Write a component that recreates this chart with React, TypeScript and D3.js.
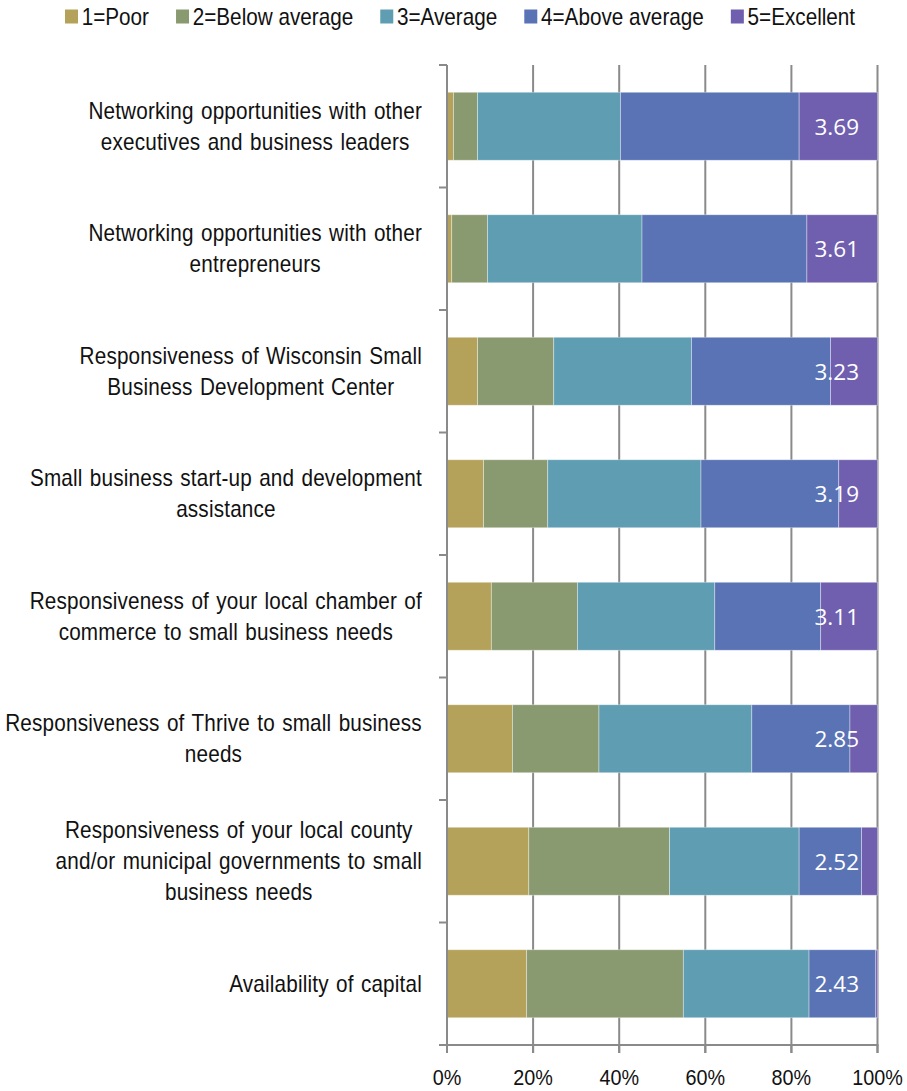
import React from "react";
import * as d3 from "d3";

const categories: string[] = [
  "Networking opportunities with other\nexecutives and business leaders",
  "Networking opportunities with other\nentrepreneurs",
  "Responsiveness of Wisconsin Small\nBusiness Development Center",
  "Small business start-up and development\nassistance",
  "Responsiveness of your local chamber of\ncommerce to small business needs",
  "Responsiveness of Thrive to small business\nneeds",
  "Responsiveness of your local county\nand/or municipal governments to small\nbusiness needs",
  "Availability of capital",
];
const seriesNames = ["1=Poor", "2=Below average", "3=Average", "4=Above average", "5=Excellent"];
const poor = [1.5, 1.1, 7.1, 8.5, 10.3, 15.2, 19.0, 18.5];
const belowAverage = [5.6, 8.3, 17.7, 14.9, 20.0, 20.1, 32.7, 36.4];
const average = [33.2, 35.9, 32.0, 35.6, 31.9, 35.5, 30.1, 29.2];
const aboveAverage = [41.5, 38.3, 32.3, 32.0, 24.6, 22.8, 14.5, 15.5];
const excellent = [18.2, 16.4, 10.9, 9.0, 13.2, 6.4, 3.7, 0.4];
const meanLabels = ["3.69", "3.61", "3.23", "3.19", "3.11", "2.85", "2.52", "2.43"];
const xTicks = [0, 20, 40, 60, 80, 100];
const colors = ["#B5A25A", "#8A9A70", "#5E9DB2", "#5973B5", "#705EAF"];

const FONT = '"Liberation Sans", Arial, sans-serif';
const SX = 0.9; // horizontal condensing to mimic the narrow face

let ctx: CanvasRenderingContext2D | null = null;
function measure(text: string, size: number, ls = 0, ws = 0) {
  if (!ctx) ctx = document.createElement("canvas").getContext("2d");
  let w = text.length * size * 0.5;
  if (ctx) {
    ctx.font = `${size}px ${FONT}`;
    w = ctx.measureText(text).width;
  }
  const spaces = (text.match(/ /g) || []).length;
  return (w + ls * text.length + ws * spaces) * SX;
}

function CText(props: {
  x: number; y: number; size: number; anchor?: string; fill?: string; ls?: number; ws?: number; children: React.ReactNode;
}) {
  const { x, y, size, anchor = "start", fill = "#111", ls = 0, ws = 0, children } = props;
  return (
    <g transform={`translate(${x},${y}) scale(${SX},1)`}>
      <text x={0} y={0} fontFamily={FONT} fontSize={size} textAnchor={anchor} fill={fill}
        letterSpacing={ls} wordSpacing={ws}>
        {children}
      </text>
    </g>
  );
}

export default function App() {
  const W = 907, H = 1091;
  const left = 447, right = 877.5, top = 65, bottom = 1045;
  const x = d3.scaleLinear().domain([0, 100]).range([left, right]);
  const y = d3.scaleBand<string>().domain(categories).range([top, bottom]).paddingInner(0.445).paddingOuter(0.2225);
  const step = y.step();

  const rows = categories.map((c, i) => ({
    cat: c,
    s0: poor[i], s1: belowAverage[i], s2: average[i], s3: aboveAverage[i], s4: excellent[i],
  }));
  const keys = ["s0", "s1", "s2", "s3", "s4"];
  const stacked = d3.stack<any>().keys(keys)(rows);

  const labelSize = 23, lineH = 31, labelLS = 0.2, labelWS = 1.5;
  const legendSize = 23;

  let lx = 65;
  const legendItems = seriesNames.map((n, i) => {
    const item = { x: lx, name: n, color: colors[i] };
    lx += 13 + 3.7 + measure(n, legendSize) + 27;
    return item;
  });

  return (
    <svg width={W} height={H} style={{ position: "absolute", left: 0, top: 0, background: "#fff" }}>
      {legendItems.map((it) => (
        <g key={it.name}>
          <rect x={it.x} y={9.5} width={13} height={14} fill={it.color} />
          <CText x={it.x + 16.7} y={25} size={legendSize}>{it.name}</CText>
        </g>
      ))}

      {xTicks.slice(1).map((t) => (
        <line key={"g" + t} x1={x(t)} x2={x(t)} y1={top} y2={bottom + 8} stroke="#8a8a8a" strokeWidth={2} />
      ))}

      {stacked.map((layer, si) => (
        <g key={"l" + si} fill={colors[si]}>
          {layer.map((d, i) => (
            <rect
              key={i}
              x={x(d[0])}
              width={Math.max(0, x(d[1]) - x(d[0]))}
              y={y(categories[i])!}
              height={y.bandwidth()}
              stroke="rgba(255,255,255,0.45)"
              strokeWidth={0.8}
            />
          ))}
        </g>
      ))}

      {meanLabels.map((m, i) => (
        <text
          key={"m" + i}
          x={x(100) - 18.5}
          y={y(categories[i])! + y.bandwidth() / 2}
          dy="0.37em"
          textAnchor="end"
          fontFamily='"Open Sans", sans-serif'
          fontSize={22.5}
          fill="#fff"
        >
          {m}
        </text>
      ))}

      <line x1={left} x2={left} y1={top} y2={bottom} stroke="#8a8a8a" strokeWidth={2} />
      {d3.range(categories.length + 1).map((i) => (
        <line key={"lt" + i} x1={left - 8} x2={left} y1={top + i * step} y2={top + i * step} stroke="#8a8a8a" strokeWidth={2} />
      ))}
      <line x1={left - 8} x2={right + 1} y1={bottom} y2={bottom} stroke="#8a8a8a" strokeWidth={2} />
      {xTicks.map((t) => (
        <g key={"xt" + t}>
          <line x1={x(t)} x2={x(t)} y1={bottom} y2={bottom + 8} stroke="#8a8a8a" strokeWidth={2} />
          <CText x={x(t)} y={1085} size={22} anchor="middle">{t}%</CText>
        </g>
      ))}

      {categories.map((c) => {
        const lines = c.split("\n");
        const maxW = d3.max(lines, (l) => measure(l, labelSize, labelLS, labelWS)) || 0;
        const cx = 422 - maxW / 2;
        const cy = y(c)! + y.bandwidth() / 2;
        const y0 = cy - ((lines.length - 1) * lineH) / 2 + 8;
        return (
          <g key={c}>
            {lines.map((l, j) => (
              <CText key={j} x={cx} y={y0 + j * lineH} size={labelSize} anchor="middle" ls={labelLS} ws={labelWS}>{l}</CText>
            ))}
          </g>
        );
      })}
    </svg>
  );
}
